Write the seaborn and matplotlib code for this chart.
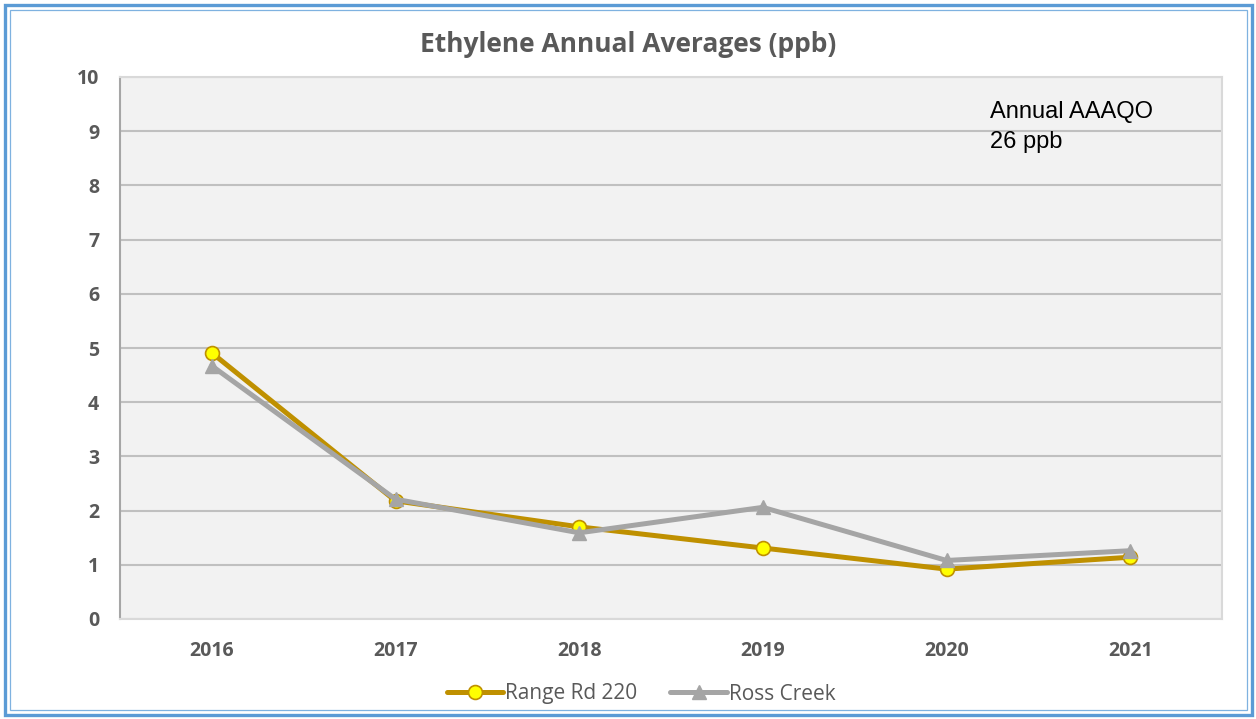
import matplotlib
matplotlib.use("Agg")
import matplotlib.pyplot as plt
from matplotlib.patches import Rectangle
from matplotlib.lines import Line2D
import seaborn as sns
import pandas as pd

years = ["2016", "2017", "2018", "2019", "2020", "2021"]
range_rd_220 = [4.91, 2.18, 1.70, 1.31, 0.92, 1.14]
ross_creek = [4.67, 2.21, 1.59, 2.06, 1.08, 1.26]
series_names = ["Range Rd 220", "Ross Creek"]
y_ticks = [0, 1, 2, 3, 4, 5, 6, 7, 8, 9, 10]

df = pd.DataFrame({
    "pos": list(range(len(years))) * 2,
    "value": range_rd_220 + ross_creek,
    "site": [series_names[0]] * len(years) + [series_names[1]] * len(years),
})

sns.set_style("white")
plt.rcParams["font.family"] = ["Open Sans", "DejaVu Sans"]

text_grey = "#595959"
gold = "#bf9000"
grey = "#a5a5a5"

fig = plt.figure(figsize=(12.56, 7.19), dpi=100)
W, H = 1256, 719
ax = fig.add_axes([120 / W, 1 - 619 / H, 1102 / W, 542 / H])
ax.set_facecolor("#f2f2f2")

# Chart frame: thick outer blue line and a thin inner one
fig.patches.append(Rectangle((4.5 / W, 4.5 / H), 1 - 9 / W, 1 - 9 / H,
                             transform=fig.transFigure, fill=False,
                             edgecolor="#5b9bd5", linewidth=2.4, zorder=10))
fig.patches.append(Rectangle((9.5 / W, 9.5 / H), 1 - 19 / W, 1 - 19 / H,
                             transform=fig.transFigure, fill=False,
                             edgecolor="#7fb2e0", linewidth=0.9, zorder=10))

sns.lineplot(data=df[df.site == series_names[0]], x="pos", y="value", ax=ax,
             color=gold, linewidth=3.6, marker="o", markersize=10,
             markerfacecolor="#ffff00", markeredgecolor=gold,
             markeredgewidth=1.2, zorder=3, legend=False)
sns.lineplot(data=df[df.site == series_names[1]], x="pos", y="value", ax=ax,
             color=grey, linewidth=3.6, marker="^", markersize=10,
             markerfacecolor=grey, markeredgecolor=grey,
             markeredgewidth=1.0, zorder=4, legend=False)

ax.set_xlim(-0.5, len(years) - 0.5)
ax.set_ylim(0, 10)
ax.set_xticks(range(len(years)))
ax.set_xticklabels(years)
ax.set_yticks(y_ticks)
ax.set_yticklabels([str(t) for t in y_ticks])
ax.set_xlabel("")
ax.set_ylabel("")
ax.tick_params(axis="both", length=0, labelsize=14, labelcolor=text_grey)
ax.tick_params(axis="x", pad=16)
ax.tick_params(axis="y", pad=15)
for lbl in ax.get_xticklabels() + ax.get_yticklabels():
    lbl.set_fontweight("bold")

ax.grid(axis="y", color="#c0c0c0", linewidth=1.5)
ax.grid(axis="x", visible=False)
ax.set_axisbelow(True)
for side in ["top", "right", "bottom"]:
    ax.spines[side].set_color("#d9d9d9")
    ax.spines[side].set_linewidth(1.5)
ax.spines["left"].set_color("#a6a6a6")
ax.spines["left"].set_linewidth(1.5)

fig.text(0.5, 1 - 45 / H, "Ethylene Annual Averages (ppb)", ha="center",
         va="center", fontsize=19, fontweight="bold", color=text_grey)

ax.text(990 / W, 1 - 101 / H, "Annual AAAQO\n26 ppb", transform=fig.transFigure,
        ha="left", va="top", fontsize=17, color="black",
        family=["Liberation Sans", "DejaVu Sans"], linespacing=1.45)

handles = [
    Line2D([], [], color=gold, linewidth=3.6, marker="o", markersize=10,
           markerfacecolor="#ffff00", markeredgecolor=gold, markeredgewidth=1.2),
    Line2D([], [], color=grey, linewidth=3.6, marker="^", markersize=10,
           markerfacecolor=grey, markeredgecolor=grey),
]
fig.legend(handles, series_names, loc="center",
           bbox_to_anchor=(0.5 + 13 / W, 1 - 694 / H),
           ncol=2, frameon=False, fontsize=15, labelcolor=text_grey,
           handlelength=2.7, handletextpad=0.1, columnspacing=1.6)

fig.savefig("out.png", dpi=100)
